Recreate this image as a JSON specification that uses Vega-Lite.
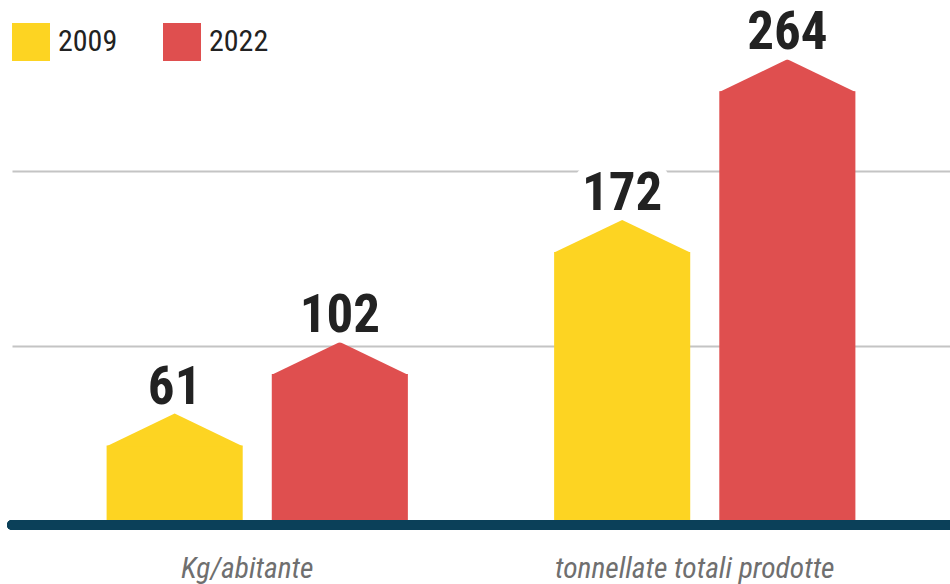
{
  "$schema": "https://vega.github.io/schema/vega-lite/v6.json",
  "width": 938,
  "height": 506,
  "autosize": {"type": "none"},
  "padding": {"left": 12, "top": 14, "right": 0, "bottom": 64},
  "background": "white",
  "config": {"view": {"stroke": null}},
  "data": {
    "values": [
      {"gruppo": "Kg/abitante", "anno": "2009", "valore": 61},
      {"gruppo": "Kg/abitante", "anno": "2022", "valore": 102},
      {"gruppo": "tonnellate totali prodotte", "anno": "2009", "valore": 172},
      {"gruppo": "tonnellate totali prodotte", "anno": "2022", "valore": 264}
    ]
  },
  "layer": [
    {
      "encoding": {
        "x": {
          "field": "gruppo", "type": "nominal", "sort": null,
          "scale": {"paddingInner": 0, "paddingOuter": 0.048},
          "axis": {
            "title": null, "labelAngle": 0, "domain": false, "ticks": false, "grid": false,
            "labelFont": "Roboto Condensed, Liberation Sans Narrow, Roboto",
            "labelFontStyle": "italic", "labelFontSize": 29.5, "labelColor": "#6f6f6f",
            "labelPadding": 34, "labelLimit": 0, "labelOffset": -10
          }
        },
        "xOffset": {
          "field": "anno", "type": "nominal",
          "scale": {"paddingInner": 0.176, "paddingOuter": 0.4427}
        },
        "y": {
          "field": "valore", "type": "quantitative",
          "scale": {"domain": [0, 290], "nice": false, "zero": true},
          "axis": {
            "title": null, "values": [100, 200], "labels": false, "ticks": false,
            "domain": false, "gridColor": "#c4c4c4", "gridWidth": 2
          }
        }
      },
      "layer": [
        {
          "mark": {"type": "bar", "yOffset": 32, "clip": true},
          "encoding": {
            "color": {
              "field": "anno", "type": "nominal",
              "scale": {"domain": ["2009", "2022"], "range": ["#fdd422", "#df4f4f"]},
              "legend": {
                "orient": "none", "legendX": 0, "legendY": 9, "direction": "horizontal",
                "title": null, "symbolType": "square", "symbolSize": 1444,
                "symbolStrokeWidth": 0, "symbolOpacity": 1,
                "labelFont": "Liberation Sans Narrow, Roboto Condensed, Roboto",
                "labelFontSize": 30, "labelColor": "#222222", "labelOffset": 8,
                "columnPadding": 45, "padding": 0
              }
            }
          }
        },
        {
          "mark": {
            "type": "point", "shape": "M-1,0.48L0,0L1,0.48Z", "size": 18496,
            "filled": true, "opacity": 1, "strokeWidth": 0
          },
          "encoding": {
            "color": {"field": "anno", "type": "nominal"}
          }
        },
        {
          "mark": {
            "type": "text", "dy": -10, "baseline": "alphabetic",
            "font": "Liberation Sans Narrow, Roboto Condensed, Roboto",
            "fontWeight": "bold", "fontSize": 53,
            "fill": "white", "stroke": "white", "strokeWidth": 20, "strokeJoin": "round"
          },
          "encoding": {"text": {"field": "valore", "type": "quantitative"}}
        },
        {
          "mark": {
            "type": "text", "dy": -10, "baseline": "alphabetic",
            "font": "Liberation Sans Narrow, Roboto Condensed, Roboto",
            "fontWeight": "bold", "fontSize": 53, "color": "#222222"
          },
          "encoding": {"text": {"field": "valore", "type": "quantitative"}}
        }
      ]
    },
    {
      "mark": {"type": "rule", "color": "#0b4059", "strokeWidth": 10, "strokeCap": "round", "yOffset": 5},
      "encoding": {
        "y": {
          "datum": 0, "type": "quantitative",
          "scale": {"domain": [0, 290], "nice": false, "zero": true},
          "axis": {
            "title": null, "values": [100, 200], "labels": false, "ticks": false,
            "domain": false, "gridColor": "#c4c4c4", "gridWidth": 2
          }
        }
      }
    }
  ]
}
